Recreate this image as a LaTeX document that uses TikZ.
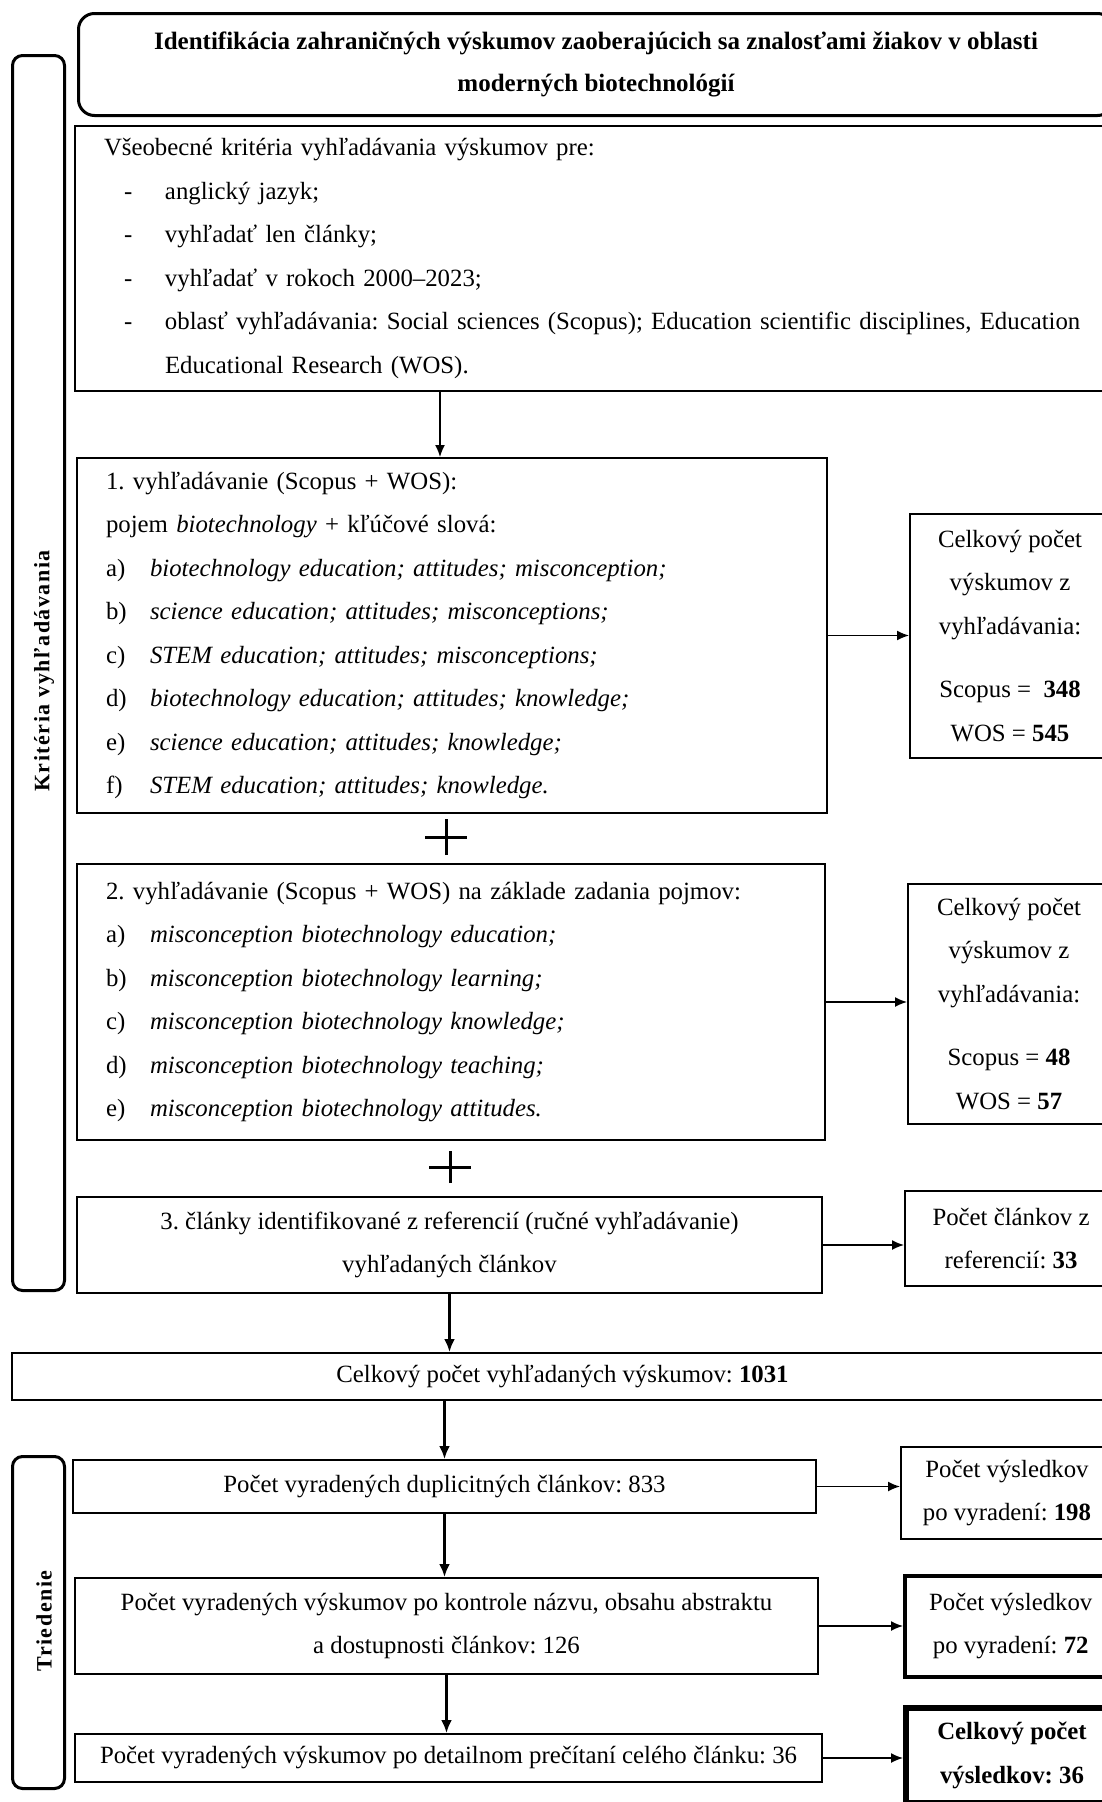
\documentclass[tikz,border=0pt]{standalone}
\usepackage{fontspec}
\setmainfont{Liberation Serif}
\usetikzlibrary{arrows.meta}
\begin{document}
\frenchspacing
\begin{tikzpicture}[x=1pt,y=-1pt,
  basefont/.style={font=\fontsize{24.8pt}{43.5pt}\selectfont},
  box/.style={draw, line width=2pt, inner sep=0pt, anchor=north west, basefont},
  lbox/.style={box, align=left, inner xsep=29pt},
  cbox/.style={box, align=center},
  tbox/.style={box, align=center, rounded corners=16pt, line width=3pt, font=\fontsize{25pt}{42pt}\selectfont\bfseries},
  bracket/.style={draw, line width=3pt, rounded corners=10pt, anchor=north west, inner sep=0pt},
  vlabel/.style={rotate=90, font=\fontsize{22pt}{24pt}\selectfont\bfseries\addfontfeature{LetterSpace=7}},
  arr/.style={-{Latex[length=12pt,width=10pt]}, line width=1.5pt},
  tarr/.style={-{Latex[length=13pt,width=11pt]}, line width=3pt},
  plus/.style={line width=3pt}
]
\useasboundingbox (0,0) rectangle (1102,1802);
\clip (0,0) rectangle (1102,1802);

% brackets
\node[bracket, minimum width=52pt, minimum height=1235pt] (krit) at (11,54) {};
\node[vlabel] (kritlab) at (44,671) {Kritéria vyhľadávania};
\node[bracket, minimum width=52pt, minimum height=332pt] (tried) at (11,1455) {};
\node[vlabel] (triedlab) at (44,1621) {Triedenie};

% title
\node[tbox, minimum width=1035pt, minimum height=102pt] (title) at (77,12)
  {Identifikácia zahraničných výskumov zaoberajúcich sa znalosťami žiakov v oblasti\\moderných biotechnológií};

% general criteria
\node[lbox, text width=980pt, minimum height=265pt] (general) at (74,125)
  {Všeobecné kritéria vyhľadávania výskumov pre:\\
   \hspace*{20pt}\makebox[41pt][l]{-}anglický jazyk;\\
   \hspace*{20pt}\makebox[41pt][l]{-}vyhľadať len články;\\
   \hspace*{20pt}\makebox[41pt][l]{-}vyhľadať v rokoch 2000–2023;\\
   \hspace*{20pt}\makebox[41pt][l]{-}oblasť vyhľadávania: Social sciences (Scopus); Education scientific disciplines, Education\\
   \hspace*{61pt}Educational Research (WOS).};

% search 1
\node[lbox, text width=692pt, minimum height=355pt] (search1) at (76,457)
  {1. vyhľadávanie (Scopus + WOS):\\
   pojem \textit{biotechnology} + kľúčové slová:\\
   \makebox[44pt][l]{a)}\textit{biotechnology education; attitudes; misconception;}\\
   \makebox[44pt][l]{b)}\textit{science education; attitudes; misconceptions;}\\
   \makebox[44pt][l]{c)}\textit{STEM education; attitudes; misconceptions;}\\
   \makebox[44pt][l]{d)}\textit{biotechnology education; attitudes; knowledge;}\\
   \makebox[44pt][l]{e)}\textit{science education; attitudes; knowledge;}\\
   \makebox[44pt][l]{f)}\textit{STEM education; attitudes; knowledge.}};

\node[cbox, minimum width=200pt, minimum height=244pt] (res1) at (909,513)
  {Celkový počet\\výskumov z\\vyhľadávania:\\[20pt]Scopus = \ \textbf{348}\\WOS = \textbf{545}};

% search 2
\node[lbox, text width=690pt, minimum height=276pt] (search2) at (76,863)
  {2. vyhľadávanie (Scopus + WOS) na základe zadania pojmov:\\
   \makebox[44pt][l]{a)}\textit{misconception biotechnology education;}\\
   \makebox[44pt][l]{b)}\textit{misconception biotechnology learning;}\\
   \makebox[44pt][l]{c)}\textit{misconception biotechnology knowledge;}\\
   \makebox[44pt][l]{d)}\textit{misconception biotechnology teaching;}\\
   \makebox[44pt][l]{e)}\textit{misconception biotechnology attitudes.}};

\node[cbox, minimum width=202pt, minimum height=240pt] (res2) at (907,883)
  {Celkový počet\\výskumov z\\vyhľadávania:\\[20pt]Scopus = \textbf{48}\\WOS = \textbf{57}};

% search 3
\node[cbox, minimum width=745pt, minimum height=96pt] (search3) at (76,1196)
  {3. články identifikované z referencií (ručné vyhľadávanie)\\vyhľadaných článkov};
\node[cbox, minimum width=212pt, minimum height=95pt] (res3) at (904,1190)
  {Počet článkov z\\referencií: \textbf{33}};

% plus signs
\coordinate (p1) at (446,837);
\coordinate (p2) at (450,1167);
\draw[plus] ([xshift=-21pt]p1) -- ([xshift=21pt]p1) ([yshift=-18pt]p1) -- ([yshift=18pt]p1);
\draw[plus] ([xshift=-21pt]p2) -- ([xshift=21pt]p2) ([yshift=-16pt]p2) -- ([yshift=16pt]p2);

% total
\node[cbox, minimum width=1102pt, minimum height=47pt] (total) at (10.5,1352)
  {Celkový počet vyhľadaných výskumov: \textbf{1031}};

% sorting
\node[cbox, minimum width=743pt, minimum height=53pt] (dup) at (72,1459)
  {Počet vyradených duplicitných článkov: 833};
\node[cbox, minimum width=212pt, minimum height=92pt] (r1) at (900,1446)
  {Počet výsledkov\\po vyradení: \textbf{198}};
\node[cbox, minimum width=743pt, minimum height=96pt] (abs) at (74,1577)
  {Počet vyradených výskumov po kontrole názvu, obsahu abstraktu\\a dostupnosti článkov: 126};
\node[cbox, line width=3.5pt, minimum width=212pt, minimum height=101pt] (r2) at (903,1574)
  {Počet výsledkov\\po vyradení: \textbf{72}};
\node[cbox, minimum width=747pt, minimum height=48pt] (final) at (74,1733)
  {Počet vyradených výskumov po detailnom prečítaní celého článku: 36};
\node[cbox, line width=6pt, minimum width=212pt, minimum height=95pt] (r3) at (903,1705)
  {\textbf{Celkový počet}\\\textbf{výsledkov: 36}};

% arrows
\coordinate (a1) at ([xshift=-12pt]search1.north);
\draw[arr] (a1 |- general.south) -- (a1);
\draw[arr] (search1.east) -- (search1.east -| res1.west);
\draw[arr] (search2.east) -- (search2.east -| res2.west);
\draw[arr] (search3.east) -- (search3.east -| res3.west);
\draw[tarr] (search3.south) -- (search3.south |- total.north);
\draw[tarr] (total.south -| dup.north) -- (dup.north);
\draw[tarr] (dup.south) -- (dup.south |- abs.north);
\draw[tarr] (abs.south) -- (abs.south |- final.north);
\draw[arr] (dup.east) -- (dup.east -| r1.west);
\draw[arr] (abs.east) -- (abs.east -| r2.west);
\draw[arr] (final.east) -- (final.east -| r3.west);
\end{tikzpicture}
\end{document}
